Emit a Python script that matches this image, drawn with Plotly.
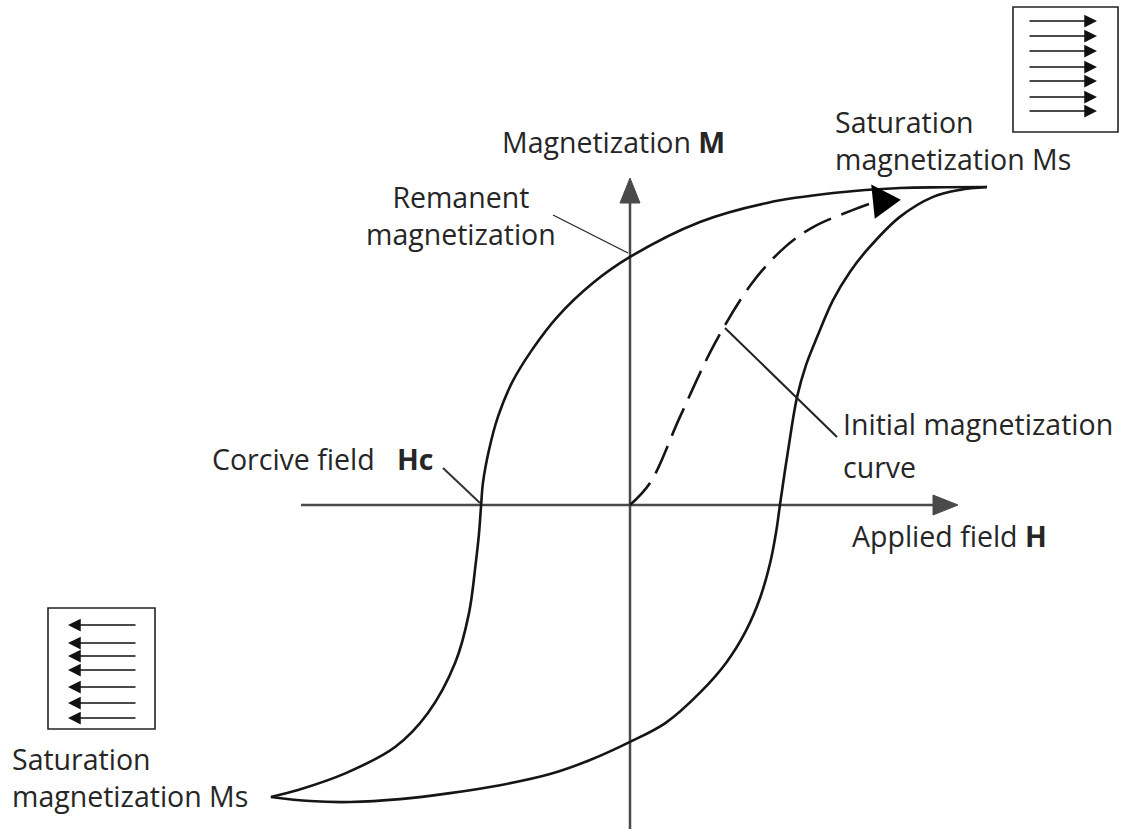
import plotly.graph_objects as go

# ---------------- data (H and M in % of saturation) ----------------
# descending branch: from +Ms to -Ms
upper_H = [100, 88.0, 75.6, 56.9, 38.4, 19.6, 0, -10.4, -20.4, -27.5, -33.1, -37.0, -39.5, -41.2,
           -41.7, -42.3, -43.2, -45.1, -49.0, -56.6, -65.8, -79.6, -93.0, -100.6]
upper_M = [100, 99.9, 99.7, 98.1, 95.0, 89.0, 78.0, 69.8, 59.1, 48.7, 38.4, 27.7, 17.3, 6.9,
           0, -9.0, -18.2, -34.0, -49.7, -65.4, -76.1, -84.3, -89.6, -91.8]

# ascending branch: from -Ms to +Ms
lower_H = [-100.6, -89.6, -78.4, -64.4, -50.4, -36.4, -22.4, -11.2, 0, 10.0, 19.6, 27.0, 32.5,
           36.5, 39.3, 41.0, 42.0, 43.1, 44.3, 46.8, 49.3, 52.4, 56.9, 61.6, 66.4, 75.6, 84.9,
           92.4, 100]
lower_M = [-91.8, -93.1, -93.4, -92.5, -90.6, -88.1, -84.6, -80.2, -74.5, -68.5, -59.0, -49.5,
           -39.5, -29.0, -18.0, -8.0, 0, 8.5, 17.3, 34.0, 44.0, 52.8, 64.5, 73.3, 80.2, 90.6, 96.9,
           99.1, 100]

# initial magnetization curve (dashed)
init_H = [0, 5.6, 14.0, 23.8, 34.2, 43.4, 51.3, 62.5, 68.6]
init_M = [0, 6.9, 27.7, 50.9, 69.8, 81.1, 87.4, 92.8, 95.3]

# domain icons: arrow rows (pixel rows inside the boxes)
right_box_rows = [21, 36, 51, 67, 81, 97, 111]
left_box_rows = [625, 643, 656, 670, 687, 703, 718]

# ---------------- geometry helpers ----------------
W, HGT = 1128, 829
X0, Y0 = 630, 505          # pixel position of origin
PX_H, PX_M = 3.57, 3.18    # pixels per unit


def hx(px):
    return (px - X0) / PX_H


def my(py):
    return (Y0 - py) / PX_M


def path(pts):
    return "M " + " L ".join(f"{hx(x):.4f},{my(y):.4f}" for x, y in pts) + " Z"


CURVE = "#151515"
AXIS = "#4a4a4a"
TEXT = "#262626"
FONT = "Open Sans"
FS = 28.5

fig = go.Figure()

# axes
fig.add_trace(go.Scatter(x=[hx(301), hx(940)], y=[0, 0], mode="lines",
                         line=dict(color=AXIS, width=2.5), hoverinfo="skip"))
fig.add_trace(go.Scatter(x=[0, 0], y=[my(829), my(198)], mode="lines",
                         line=dict(color=AXIS, width=2.5), hoverinfo="skip"))

# loop
for hs, ms in [(upper_H, upper_M), (lower_H, lower_M)]:
    fig.add_trace(go.Scatter(x=hs, y=ms, mode="lines",
                             line=dict(color=CURVE, width=2.6, shape="spline", smoothing=1.0),
                             hoverinfo="skip"))
fig.add_trace(go.Scatter(x=init_H, y=init_M, mode="lines",
                         line=dict(color=CURVE, width=2.6, shape="spline", smoothing=1.0,
                                   dash="30px,11px"),
                         hoverinfo="skip"))

shapes = []
# axis arrowheads
shapes.append(dict(type="path", path=path([(933, 495), (958, 505), (933, 515)]),
                   xref="x", yref="y", fillcolor=AXIS, line=dict(color=AXIS, width=1)))
shapes.append(dict(type="path", path=path([(620, 203), (630, 178), (640, 203)]),
                   xref="x", yref="y", fillcolor=AXIS, line=dict(color=AXIS, width=1)))
# initial curve arrowhead
shapes.append(dict(type="path", path=path([(873, 187), (876, 216), (898, 200)]),
                   xref="x", yref="y", fillcolor="#000", line=dict(color="#000", width=3)))
# leader lines
shapes.append(dict(type="line", x0=hx(553), y0=my(215), x1=hx(628), y1=my(253),
                   xref="x", yref="y", line=dict(color="#222", width=1.2)))
shapes.append(dict(type="line", x0=hx(443), y0=my(468), x1=hx(480), y1=my(503),
                   xref="x", yref="y", line=dict(color="#333", width=2)))
shapes.append(dict(type="line", x0=hx(725), y0=my(328), x1=hx(837), y1=my(437),
                   xref="x", yref="y", line=dict(color="#222", width=2)))
# domain boxes
shapes.append(dict(type="rect", x0=hx(1013), y0=my(7), x1=hx(1118), y1=my(132),
                   xref="x", yref="y", line=dict(color="#222", width=1.6)))
shapes.append(dict(type="rect", x0=hx(48), y0=my(608), x1=hx(155), y1=my(729),
                   xref="x", yref="y", line=dict(color="#222", width=1.6)))

annotations = []
for r in right_box_rows:
    annotations.append(dict(x=hx(1097), y=my(r), ax=hx(1028), ay=my(r), xref="x", yref="y",
                            axref="x", ayref="y", text="", showarrow=True, arrowhead=2,
                            arrowwidth=1.5, arrowsize=1.7, arrowcolor="#111"))
for r in left_box_rows:
    annotations.append(dict(x=hx(68), y=my(r), ax=hx(137), ay=my(r), xref="x", yref="y",
                            axref="x", ayref="y", text="", showarrow=True, arrowhead=2,
                            arrowwidth=1.5, arrowsize=1.7, arrowcolor="#111"))


def label(text, xpos, baseline_mid, anchor="left"):
    annotations.append(dict(x=hx(xpos), y=my(baseline_mid - 0.39 * FS), xref="x", yref="y",
                            text=text, showarrow=False, xanchor=anchor, yanchor="middle",
                            align=anchor if anchor != "center" else "center",
                            font=dict(family=FONT, size=FS, color=TEXT)))


label("Magnetization <b>M</b>", 500, 153)
label("Remanent<br>magnetization", 461, (211 + 242) / 2, anchor="center")
label("Saturation<br>magnetization Ms", 833, (135 + 169) / 2)
label("Corcive field   <b>Hc</b>", 210, 470)
label("Initial magnetization", 841, 435)
label("curve", 841, 478)
label("Applied field <b>H</b>", 850, 547)
label("Saturation<br>magnetization Ms", 10, (772 + 805) / 2)

fig.update_layout(
    width=W, height=HGT, autosize=False,
    margin=dict(l=0, r=0, t=0, b=0),
    paper_bgcolor="white", plot_bgcolor="white",
    showlegend=False,
    xaxis=dict(visible=False, range=[hx(0), hx(W)], fixedrange=True),
    yaxis=dict(visible=False, range=[my(HGT), my(0)], fixedrange=True),
    shapes=shapes, annotations=annotations,
)

fig.write_html("out.html", config={"displayModeBar": False},
               post_script="document.body.style.margin='0';document.body.style.overflow='hidden';")
